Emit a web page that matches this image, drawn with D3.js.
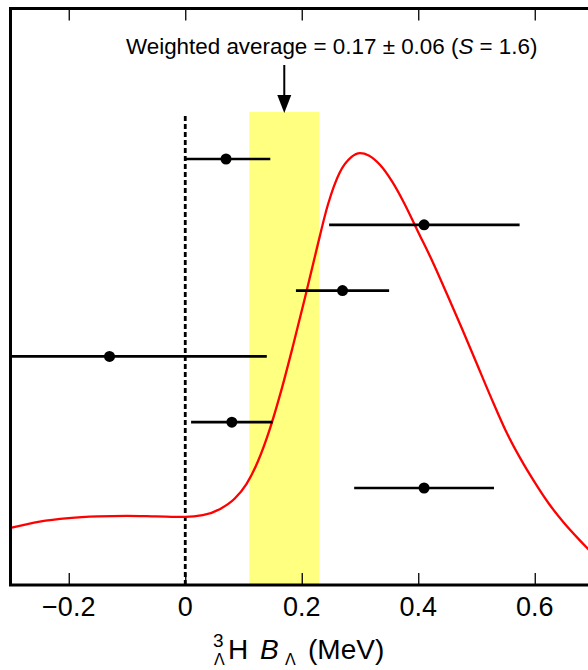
<!DOCTYPE html>
<html><head><meta charset="utf-8">
<script src="https://cdn.jsdelivr.net/npm/d3@7"></script>
<style>body{margin:0;background:#fff}svg{display:block}text{font-family:"Liberation Sans",Arial,sans-serif;fill:#000}</style>
</head><body>
<script>
// ---- data ----
const xTicks = [-0.2, 0, 0.2, 0.4, 0.6];
const measValue = [0.07, 0.41, 0.27, -0.13, 0.08, 0.41];
const measErrLo = [0.07, 0.163, 0.08, 0.27, 0.07, 0.12];
const measErrHi = [0.076, 0.164, 0.08, 0.27, 0.07, 0.12];
const avgValue = 0.17, avgErr = 0.06;
const curveX = [-0.300,-0.250,-0.200,-0.150,-0.100,-0.050,0.000,0.030,0.060,0.085,0.105,0.125,0.145,0.165,0.185,0.205,0.225,0.245,0.265,0.285,0.300,0.315,0.335,0.355,0.375,0.400,0.425,0.450,0.475,0.500,0.525,0.550,0.575,0.600,0.625,0.650,0.675,0.700];
const curveY = [0.099,0.110,0.116,0.119,0.120,0.119,0.118,0.121,0.132,0.150,0.175,0.215,0.270,0.338,0.415,0.496,0.580,0.660,0.715,0.742,0.749,0.745,0.728,0.700,0.664,0.612,0.560,0.503,0.445,0.385,0.325,0.268,0.220,0.178,0.140,0.108,0.080,0.054];

// ---- layout ----
const W = 588, H = 670;
const pL = 10.5, pT = 8.5, pB = 585;
const x = d3.scaleLinear().domain([-0.3, 0.7]).range([pL, pL + 582.5]);
const yC = d3.scaleLinear().domain([0, 1]).range([pB, pT]);
const yRow = d3.scaleLinear().domain([0, 5]).range([159, 488]);

const svg = d3.select("body").append("svg").attr("width", W).attr("height", H);
svg.append("defs").append("clipPath").attr("id", "clip")
  .append("rect").attr("x", pL).attr("y", pT).attr("width", x(0.7) - pL).attr("height", pB - pT);
const g = svg.append("g").attr("clip-path", "url(#clip)");

// band
g.append("rect").attr("x", x(avgValue - avgErr)).attr("width", x(avgValue + avgErr) - x(avgValue - avgErr))
  .attr("y", 112).attr("height", pB - 112).attr("fill", "#ffff80");

// dashed zero line
g.append("line").attr("x1", x(0)).attr("x2", x(0)).attr("y1", 116).attr("y2", pB)
  .attr("stroke", "#000").attr("stroke-width", 2.8).attr("stroke-dasharray", "5,3");

// curve
const pts = curveX.map((v, i) => [v, curveY[i]]);
g.append("path").datum(pts)
  .attr("d", d3.line().x(d => x(d[0])).y(d => yC(d[1])).curve(d3.curveMonotoneX))
  .attr("fill", "none").attr("stroke", "#ff0000").attr("stroke-width", 2.3);

// measurements
const meas = measValue.map((v, i) => ({v, lo: v - measErrLo[i], hi: v + measErrHi[i], i}));
g.selectAll(".eb").data(meas).join("line")
  .attr("x1", d => x(d.lo)).attr("x2", d => x(d.hi))
  .attr("y1", d => yRow(d.i)).attr("y2", d => yRow(d.i))
  .attr("stroke", "#000").attr("stroke-width", 2.7);
g.selectAll(".pt").data(meas).join("circle")
  .attr("cx", d => x(d.v)).attr("cy", d => yRow(d.i)).attr("r", 5.5).attr("fill", "#000");

// axes: ticks inward on bottom and top
const axB = d3.axisTop(x).tickValues(xTicks).tickSize(12).tickFormat("");
const gb = svg.append("g").attr("transform", `translate(0,${pB})`).call(axB);
const axT = d3.axisBottom(x).tickValues(xTicks).tickSize(12).tickFormat("");
const gt = svg.append("g").attr("transform", `translate(0,${pT})`).call(axT);
[gb, gt].forEach(a => { a.select(".domain").remove(); a.selectAll("line").attr("stroke", "#000").attr("stroke-width", 1.3); });

// tick labels
svg.selectAll(".tl").data(xTicks).join("text")
  .attr("x", d => x(d)).attr("y", 616).attr("text-anchor", "middle").attr("font-size", 27)
  .text(d => d === 0 ? "0" : (d < 0 ? "\u2212" + Math.abs(d) : String(d)));

// frame
svg.append("rect").attr("x", pL).attr("y", pT).attr("width", x(0.7) - pL).attr("height", pB - pT)
  .attr("fill", "none").attr("stroke", "#000").attr("stroke-width", 3);

// title
const t = svg.append("text").attr("x", 126).attr("y", 54).attr("font-size", 22.4);
t.append("tspan").text("Weighted average = 0.17 \u00b1 0.06 (");
t.append("tspan").attr("font-style", "italic").text("S");
t.append("tspan").text(" = 1.6)");

// arrow
svg.append("line").attr("x1", x(avgValue)).attr("x2", x(avgValue)).attr("y1", 65).attr("y2", 98)
  .attr("stroke", "#000").attr("stroke-width", 2);
svg.append("path").attr("d", `M${x(avgValue) - 7},95 L${x(avgValue) + 7},95 L${x(avgValue)},113 Z`).attr("fill", "#000");

// x-axis label
svg.append("text").attr("x", 213).attr("y", 647).attr("font-size", 19).text("3");
svg.append("text").attr("x", 214).attr("y", 665).attr("font-size", 16).text("\u039b");
svg.append("text").attr("x", 228).attr("y", 659).attr("font-size", 28).text("H");
svg.append("text").attr("x", 260).attr("y", 659).attr("font-size", 28).attr("font-style", "italic").text("B");
svg.append("text").attr("x", 285).attr("y", 665).attr("font-size", 16).text("\u039b");
svg.append("text").attr("x", 308).attr("y", 659).attr("font-size", 28).text("(MeV)");
</script>
</body></html>
